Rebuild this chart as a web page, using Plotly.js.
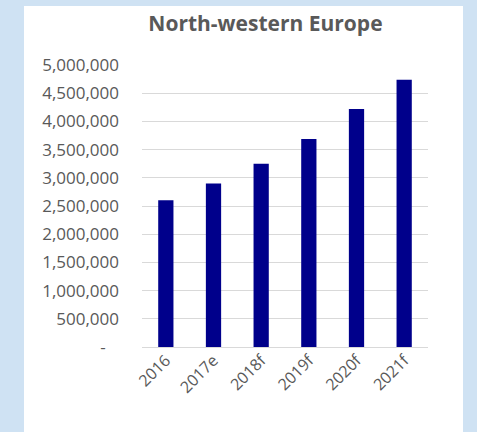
<!DOCTYPE html>
<html>
<head>
<meta charset="utf-8">
<script src="https://cdn.plot.ly/plotly-3.0.1.min.js"></script>
<style>
html,body{margin:0;padding:0;background:#cfe2f3;width:477px;height:432px;overflow:hidden;}
#chart{position:absolute;left:24px;top:6px;width:439px;height:426px;}
</style>
</head>
<body>
<div id="chart"></div>
<script>
const categories = ["2016", "2017e", "2018f", "2019f", "2020f", "2021f"];
const values = [2600000, 2900000, 3250000, 3690000, 4220000, 4740000];
const yTickVals = [0, 500000, 1000000, 1500000, 2000000, 2500000, 3000000, 3500000, 4000000, 4500000, 5000000];
const yTickText = ["-\u00a0\u00a0\u00a0", "500,000", "1,000,000", "1,500,000", "2,000,000", "2,500,000", "3,000,000", "3,500,000", "4,000,000", "4,500,000", "5,000,000"];
const titleText = "North-western Europe";

const trace = {
  type: "bar",
  x: categories,
  y: values,
  marker: {color: "#00008b"},
  width: 0.32,
  hoverinfo: "none"
};

const layout = {
  width: 439,
  height: 426,
  paper_bgcolor: "#ffffff",
  plot_bgcolor: "#ffffff",
  margin: {l: 118, r: 35, t: 59, b: 85},
  showlegend: false,
  font: {family: "Open Sans, Noto Sans, sans-serif", color: "#595959"},
  title: {
    text: "<b>" + titleText + "</b>",
    font: {size: 21, color: "#595959", family: "Open Sans, sans-serif"},
    x: 0.55, xanchor: "center",
    y: 0.958, yanchor: "middle"
  },
  xaxis: {
    type: "category",
    range: [-0.5, 5.5],
    tickangle: -45,
    tickfont: {size: 16, color: "#595959"},
    showgrid: false,
    showline: false,
    ticks: "",
    zeroline: false
  },
  yaxis: {
    range: [0, 5000000],
    tickvals: yTickVals,
    ticktext: yTickText,
    tickfont: {size: 17, color: "#595959"},
    showgrid: true,
    gridcolor: "#d9d9d9",
    gridwidth: 1,
    zeroline: true,
    zerolinecolor: "#d9d9d9",
    zerolinewidth: 1,
    ticks: "",
    ticklabelstandoff: 22,
    showline: false
  }
};

Plotly.newPlot("chart", [trace], layout, {displayModeBar: false, staticPlot: true});
</script>
</body>
</html>
